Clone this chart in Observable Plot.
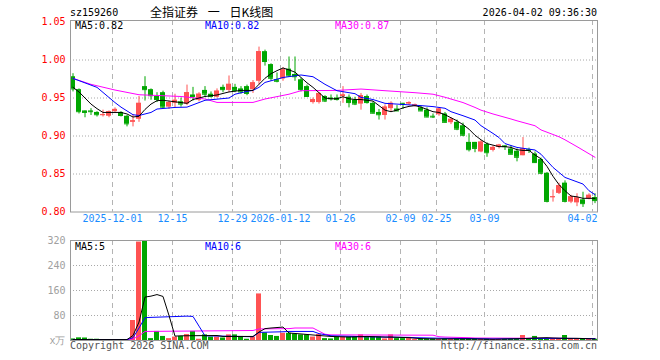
<!DOCTYPE html>
<html><head><meta charset="utf-8">
<script src="https://cdn.jsdelivr.net/npm/d3@7"></script>
<script src="https://cdn.jsdelivr.net/npm/@observablehq/plot@0.6"></script>
<style>
body{margin:0;background:#fff;}
#wrap{position:relative;width:660px;height:360px;overflow:hidden;background:#fff;}
#wrap svg{position:absolute;left:0;}
.t{position:absolute;font-family:"DejaVu Sans Mono",monospace;font-size:10px;line-height:12px;white-space:pre;}
</style></head><body>
<div id="wrap"></div>
<script>
const code = "sz159260";
const title = "全指证券 一 日K线图";
const stamp = "2026-04-02 09:36:30";
const copyright = "Copyright 2026 SINA.COM";
const site = "http://finance.sina.com.cn";

const open = [
0.978,0.961,0.933,0.933,0.931,0.927,0.926,0.932,0.931,0.926,
0.918,0.922,0.965,0.961,0.952,0.957,0.938,0.943,0.945,0.942,
0.954,0.947,0.960,0.955,0.951,0.964,0.960,0.964,0.962,0.965,
0.961,0.972,1.011,0.994,0.974,0.975,0.988,0.981,0.974,0.965,
0.944,0.944,0.952,0.950,0.950,0.952,0.951,0.947,0.942,0.952,
0.943,0.931,0.927,0.936,0.9355,0.943,0.942,0.939,0.937,0.934,
0.926,0.928,0.929,0.9175,0.918,0.9135,0.8916,0.8916,0.879,0.889,
0.881,0.885,0.887,0.883,0.880,0.874,0.882,0.8763,0.869,0.851,
0.819,0.8245,0.838,0.813,0.812,0.816,0.817,0.819];
const high = [
0.982,0.962,0.933,0.936,0.932,0.934,0.933,0.937,0.932,0.927,
0.928,0.952,0.978,0.962,0.957,0.959,0.946,0.955,0.950,0.967,
0.964,0.957,0.965,0.958,0.962,0.967,0.979,0.968,0.965,0.967,
0.973,1.017,1.013,0.995,0.983,0.990,1.004,1.004,0.976,0.967,
0.950,0.957,0.953,0.954,0.954,0.965,0.954,0.951,0.956,0.954,
0.945,0.935,0.941,0.945,0.940,0.943,0.945,0.942,0.939,0.937,
0.929,0.937,0.931,0.924,0.921,0.917,0.903,0.8916,0.894,0.891,
0.887,0.889,0.887,0.887,0.883,0.898,0.884,0.879,0.871,0.852,
0.829,0.838,0.841,0.822,0.824,0.826,0.824,0.824];
const low = [
0.958,0.929,0.924,0.927,0.925,0.925,0.924,0.931,0.925,0.912,
0.912,0.918,0.946,0.947,0.944,0.936,0.935,0.937,0.938,0.940,
0.946,0.945,0.951,0.950,0.950,0.957,0.957,0.957,0.955,0.953,
0.956,0.967,0.992,0.972,0.970,0.972,0.977,0.972,0.958,0.951,
0.942,0.942,0.944,0.946,0.946,0.943,0.937,0.940,0.934,0.942,
0.929,0.921,0.921,0.932,0.933,0.935,0.940,0.938,0.932,0.924,
0.923,0.926,0.917,0.915,0.907,0.899,0.879,0.878,0.878,0.872,
0.879,0.883,0.881,0.875,0.866,0.874,0.877,0.864,0.849,0.812,
0.813,0.823,0.812,0.811,0.807,0.806,0.816,0.811];
const close = [
0.962,0.932,0.931,0.932,0.928,0.928,0.932,0.935,0.927,0.916,
0.920,0.943,0.961,0.953,0.948,0.938,0.944,0.947,0.942,0.957,
0.952,0.955,0.955,0.952,0.959,0.961,0.968,0.960,0.958,0.956,
0.970,1.011,0.998,0.976,0.972,0.987,0.979,0.978,0.961,0.952,
0.948,0.956,0.946,0.949,0.948,0.954,0.944,0.942,0.953,0.944,
0.930,0.928,0.938,0.943,0.933,0.942,0.944,0.941,0.933,0.925,
0.925,0.9355,0.918,0.922,0.909,0.901,0.882,0.8837,0.892,0.878,
0.885,0.888,0.886,0.876,0.872,0.883,0.881,0.865,0.851,0.814,
0.820,0.8346,0.814,0.820,0.8185,0.811,0.822,0.815];
// volume in 万
const volume = [
5,8.5,8,4,4,3,3,2,3,3,
64,315,330,6,29,13,6,11,13,19,
29,4,18,11,11,8,18,18,13,4,
11,149,24.5,16,13,23,23,21,18,18,
11,19,6,5,11,11,11,11,18,11,
11,11,5,18,6,6,6,3,5,5,
5,3,5,3,5,5,6,6,3,4,
3,3,4,4,4,16,4,13,5,5,
4,4,16,5,5,5,5,4];

// moving averages
const ma5 = [
0.964,0.958,0.950,0.942,0.936,0.931,0.931,0.931,0.931,0.929,
0.925,0.926,0.935,0.942,0.9465,0.947,0.946,0.945,0.944,0.943,
0.948,0.950,0.952,0.953,0.954,0.956,0.958,0.959,0.960,0.960,
0.960,0.968,0.976,0.982,0.986,0.9895,0.987,0.984,0.977,0.970,
0.964,0.957,0.950,0.949,0.949,0.9517,0.949,0.948,0.948,0.947,
0.946,0.940,0.934,0.932,0.934,0.937,0.939,0.940,0.938,0.935,
0.932,0.931,0.928,0.924,0.920,0.915,0.909,0.901,0.895,0.890,
0.888,0.886,0.886,0.885,0.882,0.881,0.881,0.875,0.870,0.860,
0.847,0.836,0.828,0.821,0.820,0.818,0.818,0.818];
const ma10 = [[0,0.9758],[4,0.964],[7,0.944],[8,0.938],[10,0.928],[11,0.927],[13,0.931],[14,0.9355],[17,0.9376],[19,0.938],[21,0.944],[22,0.947],[26,0.950],[27,0.955],[29,0.9587],[30,0.960],[31,0.964],[32,0.9705],[35,0.977],[38,0.9803],[40,0.978],[42,0.968],[44,0.9596],[47,0.9557],[48,0.9508],[50,0.948],[52,0.943],[55,0.9415],[58,0.940],[60,0.9387],[62,0.9365],[63,0.932],[65,0.9267],[67,0.921],[68,0.9136],[70,0.9034],[71,0.898],[72,0.890],[74,0.885],[77,0.8816],[78,0.876],[80,0.8587],[82,0.8455],[85,0.8368],[86,0.828],[87,0.8228]];
const ma30 = [[0,0.9758],[3,0.968],[7,0.9605],[11,0.9543],[15,0.953],[18,0.952],[22,0.9487],[24,0.9442],[30,0.9442],[32,0.9487],[36,0.955],[38,0.9596],[44,0.960],[48,0.9618],[52,0.9596],[57,0.957],[60,0.955],[62,0.951],[65,0.944],[67,0.9376],[68,0.934],[70,0.929],[73,0.9224],[74,0.920],[77,0.9135],[78,0.908],[81,0.899],[82,0.895],[84,0.886],[87,0.872]];
const vma5 = [[0,3],[9,3],[10,16],[11,59],[12,139],[13,142],[14,147],[15,141],[16,80],[17,14],[18,15],[24,16],[25,13],[30,13],[31,27],[32,38],[33,40],[35,43],[36,24],[38,21],[41,16],[43,13],[46,11],[49,13],[52,11],[53,11],[56,9],[58,6],[60,5],[66,5],[70,4],[75,6],[77,8],[79,9],[80,8],[82,7],[84,7],[87,5]];
const vma10 = [[0,3],[9,3],[10,9],[11,40],[12,73],[13,74],[19,78],[20,77],[21,46],[22,15],[25,14],[30,12],[31,26],[35,28],[36,29],[40,29],[41,22],[43,15],[47,13],[48,12],[56,10],[57,9],[62,7],[67,6],[70,5],[75,6],[80,7],[87,6]];
const vma30 = [[0,3],[9,3],[10,5],[11,15],[12,29],[30,32],[31,37],[36,38],[37,40],[40,40],[41,30],[42,20],[43,18],[60,17],[61,12],[62,11],[66,9],[67,8],[80,7],[87,6]];

const tickIdx = [7,17,27,35,45,55,61,69,87];
const tickLabels = ["2025-12-01","12-15","12-29","2026-01-12","01-26","02-09","02-25","03-09","04-02"];
const priceTicks = [0.80,0.85,0.90,0.95,1.00,1.05];
const volTicks = [0,80,160,240,320];
const volTickLabels = ["x万","80","160","240","320"];

const RED = "#ff5353", GREEN = "#00a600", AXISBLUE = "#1a8cff";
const candles = open.map((o,i)=>({i, o, h:high[i], l:low[i], c:close[i], v:volume[i], up: close[i] >= o}));
const ups = candles.filter(d=>d.up), downs = candles.filter(d=>!d.up);
const W = 0.833, C = 0.4167;
const X = {type:"linear", domain:[0, 87.833], axis:null};
const baseStyle = {fontFamily:"DejaVu Sans Mono", fontSize:"10px", background:"transparent", overflow:"visible"};
const f2 = d3.format(".2f"), f0 = d3.format(".0f");

const price = Plot.plot({
  width:660, height:230, marginLeft:70, marginRight:63, marginTop:20, marginBottom:18.5,
  x:X, y:{domain:[0.80,1.052], axis:null},
  style:baseStyle,
  marks:[
    Plot.ruleY(priceTicks.filter(d=>d>0.801 && d<1.049), {stroke:"#a8a8a8", strokeDasharray:"1,2"}),
    Plot.ruleX(tickIdx, {x:d=>d, stroke:"#b4b4b4", strokeDasharray:"5,4"}),
    Plot.ruleX(ups, {x:d=>d.i+C, y1:"l", y2:"h", stroke:RED}),
    Plot.ruleX(downs, {x:d=>d.i+C, y1:"l", y2:"h", stroke:GREEN}),
    Plot.rect(ups, {x1:"i", x2:d=>d.i+W, y1:"o", y2:"c", fill:RED}),
    Plot.rect(downs, {x1:"i", x2:d=>d.i+W, y1:"o", y2:"c", fill:GREEN}),
    Plot.ruleY(ups, {x1:"i", x2:d=>d.i+W, y:"c", stroke:RED}),
    Plot.ruleY(downs, {x1:"i", x2:d=>d.i+W, y:"c", stroke:GREEN}),
    Plot.line(ma30, {x:d=>d[0]+C, y:d=>d[1], stroke:"#ff00ff", strokeWidth:1}),
    Plot.line(ma10, {x:d=>d[0]+C, y:d=>d[1], stroke:"#0000ff", strokeWidth:1}),
    Plot.line(ma5, {x:(d,i)=>i+C, y:d=>d, stroke:"#000", strokeWidth:1}),
    Plot.text(priceTicks, {y:d=>d, frameAnchor:"left", dx:-5, textAnchor:"end", text:d=>f2(d), fill:"#ff0000"}),
    Plot.text(tickIdx.slice(0,-1), {x:d=>d, frameAnchor:"bottom", dy:9.5, text:(d,i)=>tickLabels[i], fill:AXISBLUE}),
    Plot.text(tickIdx.slice(-1), {x:d=>d, frameAnchor:"bottom", dy:9.5, dx:5, textAnchor:"end", text:()=>tickLabels[tickLabels.length-1], fill:AXISBLUE}),
    Plot.frame({stroke:"#9a9a9a"})
  ]
});
price.style.top = "0px";

const vol = Plot.plot({
  width:660, height:130, marginLeft:70, marginRight:63, marginTop:10, marginBottom:20,
  x:X, y:{domain:[0,320], axis:null},
  style:baseStyle,
  marks:[
    Plot.ruleY(volTicks.filter(d=>d>0 && d<320), {stroke:"#a8a8a8", strokeDasharray:"1,2"}),
    Plot.ruleX(tickIdx, {x:d=>d, stroke:"#b4b4b4", strokeDasharray:"5,4"}),
    Plot.rect(ups, {x1:"i", x2:d=>d.i+W, y1:0, y2:"v", fill:RED, clip:true}),
    Plot.rect(downs, {x1:"i", x2:d=>d.i+W, y1:0, y2:"v", fill:GREEN, clip:true}),
    Plot.line(vma30, {x:d=>d[0]+C, y:d=>d[1], stroke:"#ff00ff", strokeWidth:1}),
    Plot.line(vma10, {x:d=>d[0]+C, y:d=>d[1], stroke:"#0000ff", strokeWidth:1}),
    Plot.line(vma5, {x:d=>d[0]+C, y:d=>d[1], stroke:"#000", strokeWidth:1}),
    Plot.text(volTicks, {y:d=>d, frameAnchor:"left", dx:-5, textAnchor:"end", text:(d,i)=>volTickLabels[i], fill:"#a0a0a0"}),
    Plot.frame({stroke:"#9a9a9a"})
  ]
});
vol.style.top = "230px";

const wrap = document.getElementById("wrap");
wrap.appendChild(price);
wrap.appendChild(vol);

function addText(txt, css){
  const d = document.createElement("div");
  d.className = "t";
  d.textContent = txt;
  Object.assign(d.style, css);
  wrap.appendChild(d);
}
addText(code, {left:"70px", top:"7px", color:"#000"});
addText(title, {left:"150px", top:"5px", color:"#000", fontFamily:"'Noto Sans CJK SC'", fontSize:"12px", lineHeight:"14px", wordSpacing:"7px"});
addText(stamp, {right:"63px", top:"7px", color:"#000"});
const lastP = a => Array.isArray(a[a.length-1]) ? a[a.length-1][1] : a[a.length-1];
addText("MA5:" + f2(lastP(ma5)), {left:"75px", top:"20px", color:"#000"});
addText("MA10:" + f2(lastP(ma10)), {left:"205px", top:"20px", color:"#0000ff"});
addText("MA30:" + f2(lastP(ma30)), {left:"335px", top:"20px", color:"#ff00ff"});
addText("MA5:" + f0(lastP(vma5)), {left:"75px", top:"240.5px", color:"#000"});
addText("MA10:" + f0(lastP(vma10)), {left:"205px", top:"240.5px", color:"#0000ff"});
addText("MA30:" + f0(lastP(vma30)), {left:"335px", top:"240.5px", color:"#ff00ff"});
addText(copyright, {left:"70px", top:"339.5px", color:"#555"});
addText(site, {right:"63px", top:"339.5px", color:"#555"});
</script>
</body></html>
